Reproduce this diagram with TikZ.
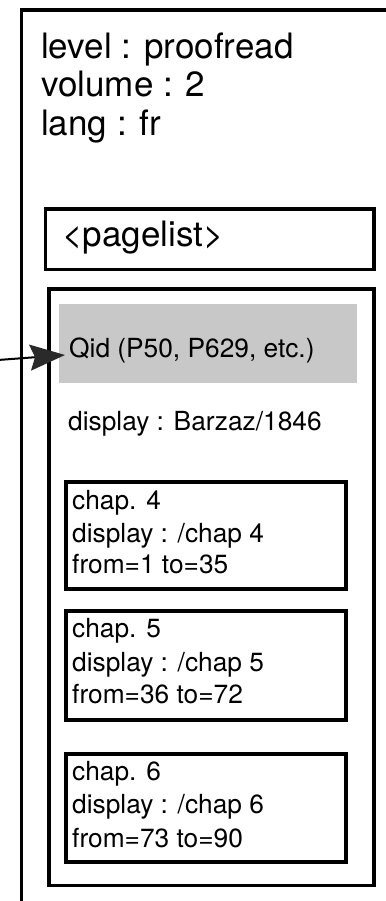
\documentclass[tikz,border=0pt]{standalone}
\usepackage{fontspec}
\setmainfont{TeX Gyre Heros}
\usetikzlibrary{arrows.meta}
\definecolor{qidgray}{RGB}{200,200,200}
\definecolor{headgray}{RGB}{42,42,42}
\begin{document}
\begin{tikzpicture}[x=1pt,y=-1pt,
  box/.style={draw=black,line width=3.8pt,rectangle,inner sep=0pt,anchor=north west},
  bigtxt/.style={anchor=base west,inner sep=0pt,font=\fontsize{35}{36}\selectfont},
  smtxt/.style={anchor=base west,inner sep=0pt,font=\fontsize{26.3}{30}\selectfont},
  arr/.style={line width=2pt,-{Stealth[length=35pt,width=26pt,inset=5pt,color=headgray]}}]
\useasboundingbox[fill=white] (0,0) rectangle (385,901);
% outer box (extends beyond the page)
\node[box,line width=3.8pt,minimum width=420pt,minimum height=940pt] (outer) at (19.5,8) {};
% top texts
\node[bigtxt] (level) at (41,59) {level : proofread};
\node[bigtxt] (volume) at (41,97) {volume : 2};
\node[bigtxt] (lang) at (41,136) {lang : fr};
% pagelist
\node[box,minimum width=328.5pt,minimum height=60.5pt] (pagelist) at (43.5,207) {};
\node[bigtxt] (pagelisttxt) at (62,247) {<pagelist>};
% inner box
\node[box,minimum width=325pt,minimum height=596.5pt] (inner) at (47,287) {};
\node[rectangle,fill=qidgray,inner sep=0pt,anchor=north west,minimum width=298pt,minimum height=79pt] (qidbox) at (59,304) {};
\node[smtxt,inner xsep=4pt] (qid) at (65,357) {Qid (P50, P629, etc.)};
\node[smtxt] (disp) at (68,430) {display : Barzaz/1846};
% chapters
\node[box,minimum width=280pt,minimum height=107pt] (c4) at (64,480) {};
\node[smtxt] (c4a) at (72,509) {chap. 4};
\node[smtxt] (c4b) at (72,542) {display : /chap 4};
\node[smtxt] (c4c) at (72,573) {from=1 to=35};
\node[box,minimum width=280pt,minimum height=109pt] (c5) at (64,609) {};
\node[smtxt] (c5a) at (72,637) {chap. 5};
\node[smtxt] (c5b) at (72,671) {display : /chap 5};
\node[smtxt] (c5c) at (72,703) {from=36 to=72};
\node[box,minimum width=280pt,minimum height=108pt] (c6) at (64,752) {};
\node[smtxt] (c6a) at (72,780) {chap. 6};
\node[smtxt] (c6b) at (72,813) {display : /chap 6};
\node[smtxt] (c6c) at (72,847) {from=73 to=90};
% arrow
\coordinate (src) at (-2,360);
\draw[arr] (src) -- ([yshift=2pt]qid.base west);
\end{tikzpicture}
\end{document}
